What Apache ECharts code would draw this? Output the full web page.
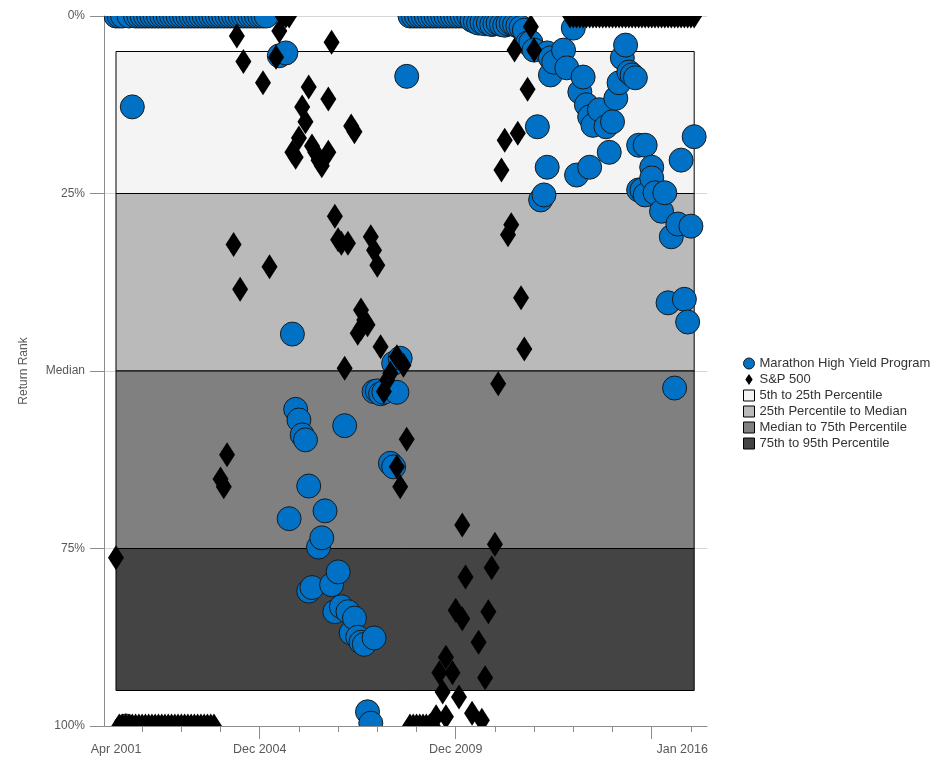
<!DOCTYPE html>
<html>
<head>
<meta charset="utf-8">
<script src="https://cdn.jsdelivr.net/npm/echarts@6/dist/echarts.min.js"></script>
<style>
  html, body { margin: 0; padding: 0; background: #fff; }
  #chart { width: 936px; height: 758px; }
</style>
</head>
<body>
<div id="chart"></div>
<script>
// ---- Axis ticks and labels ----
const xTickMonths = ['2001-12', '2002-12', '2003-12', '2004-12', '2005-12', '2006-12', '2007-12',
  '2008-12', '2009-12', '2010-12', '2011-12', '2012-12', '2013-12', '2014-12', '2015-12'];
const xMajorTickMonths = ['2004-12', '2009-12', '2014-12'];
const xLabelMonths = ['2001-04', '2004-12', '2009-12', '2016-01'];
const xLabels = ['Apr 2001', 'Dec 2004', 'Dec 2009', 'Jan 2016'];
const yTicks = [0, 25, 50, 75, 100];
const yTickLabels = ['0%', '25%', 'Median', '75%', '100%'];

// ---- Percentile bands ----
const bandNames = ['5th to 25th Percentile', '25th Percentile to Median', 'Median to 75th Percentile', '75th to 95th Percentile'];
const bandLow = [5, 25, 50, 75];
const bandHigh = [25, 50, 75, 95];
const bandStart = '2001-04';
const bandEnd = '2016-01';

// ---- Return rank (percentile, 0 = best) by month ----
const marathonName = 'Marathon High Yield Program';
const marathonRank = [
  ['2001-04', 0], ['2001-05', 0], ['2001-06', 0], ['2001-07', 100], ['2001-08', 0], ['2001-09', 12.8],
  ['2001-10', 0], ['2001-11', 0], ['2001-12', 0],
  ['2002-01', 0], ['2002-02', 0], ['2002-03', 0], ['2002-04', 0], ['2002-05', 0], ['2002-06', 0],
  ['2002-07', 0], ['2002-08', 0], ['2002-09', 0], ['2002-10', 0], ['2002-11', 0], ['2002-12', 0],
  ['2003-01', 0], ['2003-02', 0], ['2003-03', 0], ['2003-04', 0], ['2003-05', 0], ['2003-06', 0],
  ['2003-07', 0], ['2003-08', 0], ['2003-09', 0], ['2003-10', 0], ['2003-11', 0], ['2003-12', 0],
  ['2004-01', 0], ['2004-02', 0], ['2004-03', 0], ['2004-04', 0], ['2004-05', 0], ['2004-06', 0],
  ['2004-07', 0], ['2004-08', 0], ['2004-09', 0], ['2004-10', 0], ['2004-11', 0], ['2004-12', 0],
  ['2005-01', 0], ['2005-02', 0],
  ['2005-06', 5.6], ['2005-08', 5.2], ['2005-09', 70.8], ['2005-10', 44.8], ['2005-11', 55.4], ['2005-12', 56.9],
  ['2006-01', 59.0], ['2006-02', 59.7], ['2006-03', 66.2], ['2006-03', 81.0], ['2006-04', 80.5], ['2006-06', 74.8],
  ['2006-07', 73.5], ['2006-08', 69.7], ['2006-10', 80.1], ['2006-11', 83.9], ['2006-12', 78.3],
  ['2007-01', 83.2], ['2007-02', 57.7], ['2007-03', 83.9], ['2007-04', 86.9], ['2007-05', 84.8], ['2007-06', 87.5],
  ['2007-07', 88.2], ['2007-08', 88.5], ['2007-09', 98.0], ['2007-10', 99.6], ['2007-11', 87.6], ['2007-11', 52.9],
  ['2007-12', 52.8], ['2008-01', 53.2], ['2008-02', 53.0], ['2008-04', 63.0], ['2008-05', 63.5], ['2008-05', 48.9],
  ['2008-06', 53.0], ['2008-07', 48.2], ['2008-09', 8.5],
  ['2008-10', 0], ['2008-11', 0], ['2008-12', 0],
  ['2009-01', 0], ['2009-02', 0], ['2009-03', 0], ['2009-04', 0], ['2009-05', 0], ['2009-06', 0],
  ['2009-07', 0], ['2009-08', 0], ['2009-09', 0], ['2009-10', 0], ['2009-11', 0], ['2009-12', 0],
  ['2010-01', 0], ['2010-02', 0], ['2010-03', 0], ['2010-04', 0],
  ['2010-05', 0.6], ['2010-06', 0.8], ['2010-07', 1.0], ['2010-08', 0.9], ['2010-09', 1.1], ['2010-10', 1.0],
  ['2010-11', 1.2], ['2010-12', 1.1], ['2011-01', 1.0], ['2011-02', 1.2], ['2011-03', 1.3], ['2011-04', 1.1],
  ['2011-05', 1.0], ['2011-06', 1.2], ['2011-07', 1.4], ['2011-08', 1.6],
  ['2011-09', 2.0], ['2011-10', 3.8], ['2011-11', 3.7], ['2011-12', 4.8],
  ['2012-01', 15.6], ['2012-02', 25.9], ['2012-03', 25.2], ['2012-04', 21.3], ['2012-04', 5.2], ['2012-05', 5.9],
  ['2012-05', 8.3], ['2012-06', 6.5], ['2012-09', 4.8], ['2012-10', 7.3], ['2012-12', 1.7],
  ['2013-01', 22.4], ['2013-02', 10.7], ['2013-03', 8.6], ['2013-04', 12.5], ['2013-05', 21.3], ['2013-05', 14.2],
  ['2013-06', 15.4], ['2013-08', 13.2], ['2013-10', 15.6], ['2013-11', 19.2], ['2013-12', 14.9],
  ['2014-01', 11.6], ['2014-02', 9.4], ['2014-03', 5.9], ['2014-04', 4.1], ['2014-05', 7.9], ['2014-06', 8.3],
  ['2014-07', 8.7], ['2014-08', 24.5], ['2014-08', 18.2], ['2014-09', 24.5], ['2014-10', 18.2], ['2014-10', 25.2],
  ['2014-12', 21.3], ['2014-12', 22.8],
  ['2015-01', 24.9], ['2015-03', 27.5], ['2015-04', 24.9], ['2015-05', 40.4], ['2015-06', 31.1], ['2015-07', 52.4],
  ['2015-08', 29.3], ['2015-09', 20.3], ['2015-10', 39.9], ['2015-11', 43.1], ['2015-12', 29.6],
  ['2016-01', 17.0]
];

const sp500Name = 'S&P 500';
const sp500Rank = [
  ['2001-04', 76.3],
  ['2001-05', 100], ['2001-06', 100], ['2001-07', 100], ['2001-08', 100], ['2001-09', 100], ['2001-10', 100],
  ['2001-11', 100], ['2001-12', 100],
  ['2002-01', 100], ['2002-02', 100], ['2002-03', 100], ['2002-04', 100], ['2002-05', 100], ['2002-06', 100],
  ['2002-07', 100], ['2002-08', 100], ['2002-09', 100], ['2002-10', 100], ['2002-11', 100], ['2002-12', 100],
  ['2003-01', 100], ['2003-02', 100], ['2003-03', 100], ['2003-04', 100], ['2003-05', 100], ['2003-06', 100],
  ['2003-07', 100], ['2003-08', 100], ['2003-09', 100], ['2003-10', 100],
  ['2003-12', 65.2], ['2004-01', 66.3], ['2004-02', 61.8], ['2004-04', 32.2], ['2004-05', 2.8], ['2004-06', 38.5],
  ['2004-07', 6.4], ['2005-01', 9.4], ['2005-03', 35.3], ['2005-05', 5.8], ['2005-06', 2.1],
  ['2005-07', 0], ['2005-08', 0], ['2005-09', 0],
  ['2005-10', 19.2], ['2005-11', 19.9], ['2005-12', 17.2],
  ['2006-01', 12.8], ['2006-02', 14.9], ['2006-03', 10.0], ['2006-04', 18.3], ['2006-05', 19.2], ['2006-06', 20.3],
  ['2006-07', 21.1], ['2006-09', 19.2], ['2006-09', 11.7], ['2006-10', 3.7], ['2006-11', 28.2], ['2006-12', 31.5],
  ['2007-01', 32.0], ['2007-02', 49.6], ['2007-03', 32.0], ['2007-04', 15.5], ['2007-05', 16.3], ['2007-06', 44.7],
  ['2007-07', 41.4], ['2007-07', 44.0], ['2007-08', 42.8], ['2007-09', 43.5], ['2007-10', 31.1], ['2007-11', 33.0],
  ['2007-12', 35.1],
  ['2008-01', 46.6], ['2008-02', 52.9], ['2008-03', 51.3], ['2008-04', 50.3], ['2008-06', 48.0], ['2008-06', 63.5],
  ['2008-07', 66.3], ['2008-08', 49.2], ['2008-09', 59.6],
  ['2008-10', 100], ['2008-11', 100], ['2008-12', 100], ['2009-01', 100], ['2009-02', 100], ['2009-03', 100],
  ['2009-04', 100], ['2009-05', 100],
  ['2009-06', 98.7], ['2009-07', 92.5], ['2009-08', 95.2], ['2009-09', 90.3], ['2009-09', 98.7], ['2009-11', 92.5],
  ['2009-12', 83.7],
  ['2010-01', 95.9], ['2010-02', 84.9], ['2010-02', 71.7], ['2010-03', 79.0], ['2010-05', 98.2], ['2010-07', 88.2],
  ['2010-08', 99.2], ['2010-09', 93.2], ['2010-10', 83.9], ['2010-11', 77.7], ['2010-12', 74.4],
  ['2011-01', 51.8], ['2011-02', 21.7], ['2011-03', 17.5], ['2011-04', 30.8], ['2011-05', 29.4], ['2011-06', 4.8],
  ['2011-07', 16.5], ['2011-08', 39.7], ['2011-09', 46.9], ['2011-10', 10.3], ['2011-11', 1.5], ['2011-12', 4.8],
  ['2012-11', 0], ['2012-12', 0],
  ['2013-01', 0], ['2013-02', 0], ['2013-03', 0], ['2013-04', 0], ['2013-05', 0], ['2013-06', 0],
  ['2013-07', 0], ['2013-08', 0], ['2013-09', 0], ['2013-10', 0], ['2013-11', 0], ['2013-12', 0],
  ['2014-01', 0], ['2014-02', 0], ['2014-03', 0], ['2014-04', 0], ['2014-05', 0], ['2014-06', 0],
  ['2014-07', 0], ['2014-08', 0], ['2014-09', 0], ['2014-10', 0], ['2014-11', 0], ['2014-12', 0],
  ['2015-01', 0], ['2015-02', 0], ['2015-03', 0], ['2015-04', 0], ['2015-05', 0], ['2015-06', 0],
  ['2015-07', 0], ['2015-08', 0], ['2015-09', 0], ['2015-10', 0], ['2015-11', 0], ['2015-12', 0],
  ['2016-01', 0]
];

// ---- Styling ----
const FONT = '"Liberation Sans", Arial, sans-serif';
const AXIS_GREY = '#8c8c8c';
const TEXT_GREY = '#595959';
const MARATHON_BLUE = '#0071c5';
const bandColors = ['#f4f4f4', '#bababa', '#808080', '#444444'];

// 'YYYY-MM' -> fractional year (Jan = .0)
function toYear(s) {
  const parts = s.split('-').map(Number);
  return parts[0] + (parts[1] - 1) / 12;
}

const xMin = 2000.944;
const xMax = 2016.327;
const labelYears = xLabelMonths.map(toYear);

function renderCircle(params, api) {
  const p = api.coord([api.value(0), api.value(1)]);
  return {
    type: 'circle',
    shape: { cx: p[0], cy: p[1], r: 12 },
    style: { fill: MARATHON_BLUE, stroke: '#1a1a1a', lineWidth: 1 }
  };
}

function renderDiamond(params, api) {
  const p = api.coord([api.value(0), api.value(1)]);
  return {
    type: 'polygon',
    shape: { points: [[p[0], p[1] - 12.5], [p[0] + 8, p[1]], [p[0], p[1] + 12.5], [p[0] - 8, p[1]]] },
    style: { fill: '#000000' }
  };
}

function bandSeries(k) {
  return {
    name: bandNames[k],
    type: 'custom',
    z: 1,
    silent: true,
    itemStyle: { color: bandColors[k], borderColor: '#000', borderWidth: 1 },
    encode: { x: [0, 2], y: [1, 3] },
    data: [[toYear(bandStart), bandLow[k], toYear(bandEnd), bandHigh[k]]],
    renderItem: function (params, api) {
      const a = api.coord([api.value(0), api.value(1)]);
      const b = api.coord([api.value(2), api.value(3)]);
      return {
        type: 'rect',
        shape: { x: a[0], y: a[1], width: b[0] - a[0], height: b[1] - a[1] },
        style: { fill: bandColors[k], stroke: '#000', lineWidth: 1 }
      };
    }
  };
}

const chart = echarts.init(document.getElementById('chart'), null, { renderer: 'canvas' });

chart.setOption({
  animation: false,
  backgroundColor: '#ffffff',
  textStyle: { fontFamily: FONT },
  grid: { left: 104, top: 16, width: 603, height: 710, containLabel: false },
  legend: {
    orient: 'vertical',
    left: 743,
    top: 357,
    padding: 0,
    itemWidth: 11,
    itemHeight: 11,
    itemGap: 3,
    selectedMode: false,
    textStyle: { fontSize: 13, color: '#333', fontFamily: FONT },
    data: [
      { name: marathonName, icon: 'circle', itemStyle: { color: MARATHON_BLUE, borderColor: '#1a1a1a', borderWidth: 1 } },
      { name: sp500Name, icon: 'path://M4,0L8,6L4,12L0,6Z', itemStyle: { color: '#000', borderWidth: 0 } }
    ].concat(bandNames.map((n, k) => ({
      name: n, icon: 'rect', itemStyle: { color: bandColors[k], borderColor: '#000', borderWidth: 1 }
    })))
  },
  xAxis: [
    {
      type: 'value',
      min: xMin,
      max: xMax,
      position: 'bottom',
      axisLine: { show: true, onZero: false, lineStyle: { color: AXIS_GREY, width: 1 } },
      axisTick: { show: true, customValues: xTickMonths.map(toYear), length: 6, lineStyle: { color: AXIS_GREY } },
      axisLabel: {
        customValues: labelYears,
        margin: 17,
        color: TEXT_GREY,
        fontSize: 12.5,
        fontFamily: FONT,
        formatter: function (v) {
          const k = labelYears.findIndex(t => Math.abs(t - v) < 1e-6);
          if (k < 0) return '';
          return k === xLabels.length - 1 ? '{end|' + xLabels[k] + '}' : xLabels[k];
        },
        rich: { end: { padding: [0, 24, 0, 0], color: TEXT_GREY, fontSize: 12.5, fontFamily: FONT } }
      },
      splitLine: { show: false }
    },
    {
      type: 'value',
      min: xMin,
      max: xMax,
      position: 'bottom',
      axisLine: { show: false, onZero: false },
      axisTick: { show: true, customValues: xMajorTickMonths.map(toYear), length: 13, lineStyle: { color: AXIS_GREY } },
      axisLabel: { show: false },
      splitLine: { show: false }
    }
  ],
  yAxis: {
    type: 'value',
    inverse: true,
    min: 0,
    max: 100,
    interval: 25,
    name: 'Return Rank',
    nameLocation: 'middle',
    nameRotate: 90,
    nameGap: 74,
    nameTextStyle: { color: TEXT_GREY, fontSize: 12, fontFamily: FONT },
    axisLine: { show: true, onZero: false, lineStyle: { color: AXIS_GREY, width: 1 } },
    axisTick: { show: true, length: 14, lineStyle: { color: AXIS_GREY } },
    axisLabel: {
      margin: 19,
      color: TEXT_GREY,
      fontSize: 12,
      fontFamily: FONT,
      formatter: v => yTickLabels[yTicks.indexOf(v)]
    },
    splitLine: { show: true, lineStyle: { color: '#d6d6d6', width: 1 } }
  },
  series: [
    bandSeries(0), bandSeries(1), bandSeries(2), bandSeries(3),
    {
      name: marathonName,
      type: 'custom',
      z: 2,
      clip: true,
      itemStyle: { color: MARATHON_BLUE, borderColor: '#1a1a1a', borderWidth: 1 },
      encode: { x: 0, y: 1 },
      data: marathonRank.map(d => [toYear(d[0]), d[1]]),
      renderItem: renderCircle
    },
    {
      name: sp500Name,
      type: 'custom',
      z: 3,
      clip: true,
      itemStyle: { color: '#000' },
      encode: { x: 0, y: 1 },
      data: sp500Rank.map(d => [toYear(d[0]), d[1]]),
      renderItem: renderDiamond
    }
  ]
});
</script>
</body>
</html>
